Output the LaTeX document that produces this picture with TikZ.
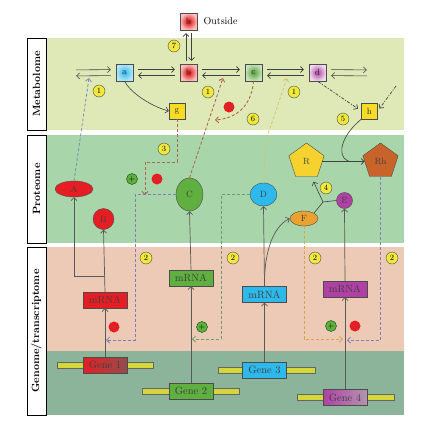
\documentclass[tikz,border=0pt]{standalone}
\usetikzlibrary{shapes.geometric,calc,arrows,arrows.meta}

\definecolor{metaband}{RGB}{222,233,183}
\definecolor{protband}{RGB}{168,214,170}
\definecolor{tranband}{RGB}{236,202,182}
\definecolor{geneband}{RGB}{140,180,155}
\definecolor{numyel}{RGB}{240,232,60}
\definecolor{genebar}{RGB}{212,214,60}
\definecolor{pred}{RGB}{230,30,35}
\definecolor{pgreen}{RGB}{95,175,65}
\definecolor{pcyan}{RGB}{45,185,235}
\definecolor{ppurple}{RGB}{175,65,165}
\definecolor{porange}{RGB}{235,160,50}
\definecolor{pyellow}{RGB}{245,210,45}
\definecolor{pbrown}{RGB}{200,100,42}
\definecolor{fbblue}{RGB}{130,125,185}
\definecolor{fbgreen}{RGB}{105,160,105}
\definecolor{fborange}{RGB}{215,165,80}
\definecolor{fbbrown}{RGB}{165,105,80}
\definecolor{fbred}{RGB}{180,90,70}
\definecolor{fbgray}{RGB}{125,140,175}
\definecolor{fbyel}{RGB}{215,195,110}

\tikzset{
  mbox/.style={draw=black!70, minimum size=17pt, inner sep=0pt, font=\small, text=black!80},
  prot/.style={draw=black!70, inner sep=0pt, font=\small, text=black!75},
  rna/.style={draw=black!70, minimum width=44pt, minimum height=16pt, inner sep=0pt, font=\fontsize{10.5}{12}\selectfont, text=black!75},
  genebox/.style={rna},
  bar/.style={draw=black!60, fill=genebar, minimum height=6pt, inner sep=0pt},
  num/.style={circle, draw=black!70, fill=numyel, minimum size=12pt, inner sep=0pt, font=\footnotesize},
  pls/.style={circle, draw=green!30!black, fill=pgreen, minimum size=11pt, inner sep=0pt, font=\footnotesize},
  mns/.style={circle, fill=pred, minimum size=11pt, inner sep=0pt, font=\footnotesize, text=black!60},
  rxn/.style={draw=black!75, line width=0.6pt, shorten >=5pt, shorten <=5pt},
  expr/.style={draw=black!65, line width=0.7pt},
  fb/.style={line width=0.8pt, dash pattern=on 3pt off 2pt},
  dd/.style={line width=0.7pt, draw=black!75, dash pattern=on 3pt off 1.5pt on 1pt off 1.5pt},
  side/.style={rotate=90, font=\fontsize{10.5}{12}\selectfont\bfseries},
  free/.style={inner sep=0pt, minimum size=0pt}
}

\newcommand{\rxnpair}[2]{%
  \draw[rxn,->] ([yshift=3pt]#1.east) -- ([yshift=3pt]#2.west);
  \draw[rxn,<-] ([yshift=-3pt]#1.east) -- ([yshift=-3pt]#2.west);}

\begin{document}
\begin{tikzpicture}[x=1pt,y=-1pt, >={Straight Barb[length=3pt,width=6pt]}]
\useasboundingbox (0,0) rectangle (422,426);

% bands
\fill[metaband] (46,38) rectangle (404,130);
\fill[protband] (46,135) rectangle (404,243);
\fill[tranband] (46,247) rectangle (404,351);
\fill[geneband] (46,351) rectangle (404,415);
\draw[fill=white] (27,38) rectangle (46,130);
\draw[fill=white] (27,135) rectangle (46,243);
\draw[fill=white] (27,247) rectangle (46,415);
\node[side] (lmeta) at (36.5,84) {Metabolome};
\node[side] (lprot) at (36.5,189) {Proteome};
\node[side] (lgen) at (36.5,331) {Genome/transcriptome};

% metabolome
\node[mbox, inner color=red!85!black, outer color=red!25] (outb) at (188.5,21.5) {b};
\node[font=\fontsize{10}{12}\selectfont, anchor=west] (outtxt) at (200,21.5) {Outside};
\node[free] (m0) at (71,73) {};
\node[mbox, inner color=pcyan, outer color=pcyan!35] (ma) at (124.5,72.5) {a};
\node[mbox, inner color=red!85!black, outer color=red!25] (mb) at (188.5,72.5) {b};
\node[mbox, inner color=pgreen!90!black, outer color=pgreen!35] (mc) at (253.5,72.5) {c};
\node[mbox, inner color=ppurple, outer color=ppurple!20] (md) at (317.5,72.5) {d};
\node[free] (m5) at (372,73) {};
\node[mbox, minimum size=16pt, fill=pyellow!80!yellow] (mg) at (177,111) {g};
\node[mbox, minimum size=16pt, fill=pyellow!80!yellow] (mh) at (369.5,111) {h};

\rxnpair{m0}{ma}
\rxnpair{ma}{mb}
\rxnpair{mb}{mc}
\rxnpair{mc}{md}
\rxnpair{md}{m5}
\draw[black!75, line width=0.6pt, ->, shorten >=3pt, shorten <=3pt] ([xshift=-2.5pt]mb.north) -- ([xshift=-2.5pt]outb.south);
\draw[black!75, line width=0.6pt, <-, shorten >=3pt, shorten <=3pt] ([xshift=3pt]mb.north) -- ([xshift=3pt]outb.south);
\draw[black!75, line width=0.6pt, ->] (ma.south) .. controls (130,92) and (150,106) .. (mg.west);

\coordinate (r1) at (89,78);
\coordinate (r2) at (223,78);
\coordinate (r3) at (287,78);
\coordinate (k6) at (215,120);
\coordinate (k7) at (396,86);

\node[num] (n7) at (174,46) {7};
\node[num] (n1a) at (99,91) {1};
\node[num] (n1b) at (208,92) {1};
\node[num] (n1c) at (294,92) {1};
\node[num] (n6) at (253,119) {6};
\node[num] (n5) at (343,119) {5};
\node[mns] (mm1) at (229,107) {$-$};

\draw[dd, ->, shorten <=1pt, shorten >=4pt] (md.south) -- (mh.west);
\draw[dd, ->, shorten >=3pt] (k7) -- (mh.east);
\draw[fb, fbred, ->] (mc.south) .. controls (252,100) and (242,118) .. (k6);

% proteome
\node[prot, ellipse, fill=pred, minimum width=38pt, minimum height=16pt] (pA) at (74,189) {A};
\node[prot, circle, fill=pred, minimum size=21pt] (pB) at (103.5,219) {B};
\node[prot, ellipse, fill=pgreen, minimum width=27pt, minimum height=33pt] (pC) at (189.5,194.5) {C};
\node[prot, ellipse, fill=pcyan, minimum width=27pt, minimum height=23pt] (pD) at (263.5,194.5) {D};
\node[prot, regular polygon, regular polygon sides=5, fill=pyellow, minimum size=37pt] (pR) at (306.5,161.5) {R};
\node[prot, regular polygon, regular polygon sides=5, fill=pbrown, minimum size=37pt] (pRh) at (380.5,161.5) {Rh};
\node[prot, ellipse, fill=porange, minimum width=28pt, minimum height=15pt] (pF) at (304,218.5) {F};
\node[prot, circle, fill=ppurple, minimum size=16pt] (pE) at (344.5,200.5) {E};
\node[num] (n3) at (164,149) {3};
\node[num] (n4) at (326,188) {4};
\node[pls] (pp1) at (132,179) {$+$};
\node[mns] (mm2) at (157,179) {$-$};

\coordinate (j4) at (323,202);
\coordinate (jh) at (352,161.5);
\coordinate (k5) at (145,195);
\draw[black!75, line width=0.6pt] (pF.north east) -- (j4);
\draw[black!75, line width=0.6pt] (pE.west) -- (j4);
\draw[black!75, line width=0.6pt, ->] (j4) -- ([shift={(-4pt,-5pt)}]pR.corner 4);
\draw[black!75, line width=0.6pt, ->] (pR.east) -- (pRh.west);
\draw[black!75, line width=0.6pt] (mh.south west) .. controls (336,140) and (338,162) .. (jh);

\draw[fb, fbgray, ->] (pA.north) -- (r1);
\draw[fb, fbred, ->] (pC.north) -- (r2);
\draw[fb, fbyel, ->] (pD.north) -- (266,140) -- (r3);
\draw[fb, fbbrown, ->] (mg.south) |- (145,162) -- (k5);

% transcriptome and genome
\node[bar, minimum width=96pt] (bar1) at (105,365) {};
\node[bar, minimum width=97pt] (bar2) at (190.5,391) {};
\node[bar, minimum width=97pt] (bar3) at (266.5,370) {};
\node[bar, minimum width=97pt] (bar4) at (345.5,397.5) {};
\node[genebox, left color=pred, right color=black!30!red!40!gray] (gene1) at (105,365) {Gene 1};
\node[genebox, fill=pgreen] (gene2) at (191,391) {Gene 2};
\node[genebox, fill=pcyan] (gene3) at (264.5,370) {Gene 3};
\node[genebox, left color=ppurple, right color=ppurple!40!gray!70] (gene4) at (345,397.5) {Gene 4};
\node[rna, fill=pred] (rna1) at (105,300) {mRNA};
\node[rna, fill=pgreen] (rna2) at (191,278) {mRNA};
\node[rna, fill=pcyan] (rna3) at (264.5,294.5) {mRNA};
\node[rna, fill=ppurple] (rna4) at (345,289) {mRNA};

\node[num] (n2a) at (146,258) {2};
\node[num] (n2b) at (233,258) {2};
\node[num] (n2c) at (315,258) {2};
\node[num] (n2d) at (392,258) {2};
\node[mns] (mm3) at (114,327) {$-$};
\node[pls] (pp2) at (202,327) {$+$};
\node[pls] (pp3) at (331,326) {$+$};
\node[mns] (mm4) at (355,326) {$-$};

\coordinate (j1) at (105,276);
\coordinate (k1) at (106,340);
\coordinate (k2) at (192,339);
\coordinate (k3) at (343,339);
\coordinate (k4) at (347,340);

\draw[expr, ->] (gene1.north) -- (rna1.south);
\draw[expr, ->] (rna1.north) -- (pB.south);
\draw[expr, ->] (j1) -| (pA.south);
\draw[expr, ->] (gene2.north) -- (rna2.south);
\draw[expr, ->] (rna2.north) -- (pC.south);
\draw[expr, ->] (gene3.north) -- (rna3.south);
\draw[expr, ->] (rna3.north) -- (pD.south);
\draw[expr, ->] (rna3.north) .. controls (264,250) and (274,226) .. (pF.west);
\draw[expr, ->] (gene4.north) -- (rna4.south);
\draw[expr, ->] (rna4.north) -- (pE.south);

\draw[fb, fbblue, ->] (pC.west) -| (135,340) -- (k1);
\draw[fb, fbgreen, ->] (pD.west) -| (221,339) -- (k2);
\draw[fb, fborange, ->] (pF.south) |- (k3);
\draw[fb, fbblue, ->] (pRh.south) |- (k4);
\end{tikzpicture}
\end{document}
